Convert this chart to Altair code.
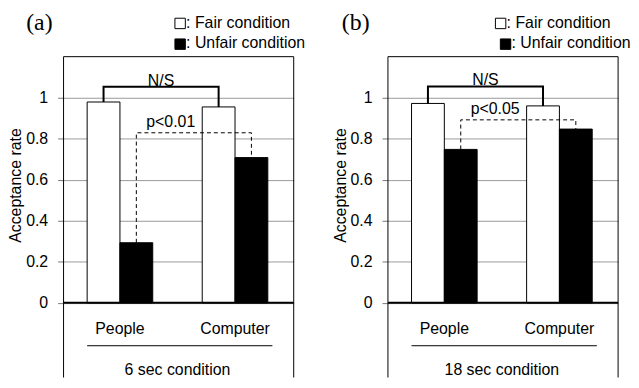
import altair as alt
import pandas as pd

# ---- data ----
panel_tags = ["(a)", "(b)"]
durations = ["6 sec condition", "18 sec condition"]
groups = ["People", "Computer"]
series = ["Fair condition", "Unfair condition"]
legend_labels = [": Fair condition", ": Unfair condition"]
fair_rates = [[0.979, 0.955], [0.972, 0.960]]
unfair_rates = [[0.293, 0.708], [0.748, 0.847]]
sig_texts = [["N/S", "p<0.01"], ["N/S", "p<0.05"]]
ns_levels = [1.053, 1.055]
p_levels = [0.829, 0.892]
y_ticks = [0, 0.2, 0.4, 0.6, 0.8, 1]
frame_top = 1.2

# ---- layout constants ----
FONT = "Liberation Sans"
SERIF = "Liberation Serif"
XDOM = [-0.49, 1.51]
YDOM = [-0.364, 1.43]
W = 232
H = 371
BW = 0.285
LEG_X = [[0.523, 0.523], [0.489, 0.532]]
LEG_SQ_Y = [1.362, 1.261]
LEG_TX_Y = [1.339, 1.240]
TAG_X = [-0.70, -0.77]
TAG_Y = 1.328
CAT_Y = -0.150
LINE_Y = -0.209
DUR_Y = -0.354
LINE_X = [-0.285, 1.325]


def panel(i):
    xs = alt.Scale(domain=XDOM, nice=False, zero=False)
    ys = alt.Scale(domain=YDOM, nice=False, zero=False)
    yaxis = alt.Axis(
        values=y_ticks, format="~g", domain=False, grid=True,
        gridColor="#9a9a9a", gridWidth=1, ticks=True, tickColor="#777777",
        tickSize=6, labelFont=FONT, labelFontSize=16, labelColor="black",
        labelPadding=10, title="Acceptance rate", titleFont=FONT,
        titleFontSize=16, titleFontWeight="normal", titleColor="black",
        titleX=-48, titleY=177, titleAlign="center", titleBaseline="middle",
        titleAngle=270,
    )

    def X(f):
        return alt.X(f, type="quantitative", scale=xs, axis=None)

    def Y(f):
        return alt.Y(f, type="quantitative", scale=ys, axis=yaxis)

    rows = []
    for gi, g in enumerate(groups):
        for si, s in enumerate(series):
            v = (fair_rates if si == 0 else unfair_rates)[i][gi]
            x0 = gi - BW + si * BW
            rows.append(dict(group=g, series=s, value=v, x0=x0, x1=x0 + BW))
    bars_df = pd.DataFrame(rows)

    bars = alt.Chart(bars_df).mark_rect(stroke="black", strokeWidth=1).encode(
        x=X("x0"), x2="x1",
        y=Y("value"), y2=alt.datum(0),
        fill=alt.Fill("series:N", scale=alt.Scale(domain=series, range=["white", "black"]), legend=None),
    )

    segs = pd.DataFrame([
        dict(xa=XDOM[0], xb=XDOM[1], ya=frame_top, yb=frame_top),
        dict(xa=XDOM[0], xb=XDOM[0], ya=YDOM[0], yb=frame_top),
        dict(xa=XDOM[1], xb=XDOM[1], ya=YDOM[0], yb=frame_top),
        dict(xa=LINE_X[0], xb=LINE_X[1], ya=LINE_Y, yb=LINE_Y),
    ])
    frame = alt.Chart(segs).mark_rule(color="black", strokeWidth=1).encode(
        x=X("xa"), x2="xb", y=Y("ya"), y2="yb"
    )
    zero_df = pd.DataFrame([dict(xa=XDOM[0], xb=XDOM[1], ya=0.0)])
    zero = alt.Chart(zero_df).mark_rule(color="black", strokeWidth=2).encode(
        x=X("xa"), x2="xb", y=Y("ya")
    )

    fair_c = [gi - BW / 2 for gi in range(len(groups))]
    unf_c = [gi + BW / 2 for gi in range(len(groups))]
    ns = pd.DataFrame([
        dict(x=fair_c[0], y=fair_rates[i][0], o=0),
        dict(x=fair_c[0], y=ns_levels[i], o=1),
        dict(x=fair_c[1], y=ns_levels[i], o=2),
        dict(x=fair_c[1], y=fair_rates[i][1], o=3),
    ])
    pp = pd.DataFrame([
        dict(x=unf_c[0], y=unfair_rates[i][0], o=0),
        dict(x=unf_c[0], y=p_levels[i], o=1),
        dict(x=unf_c[1], y=p_levels[i], o=2),
        dict(x=unf_c[1], y=unfair_rates[i][1], o=3),
    ])
    ns_line = alt.Chart(ns).mark_line(color="black", strokeWidth=2).encode(
        x=X("x"), y=Y("y"), order="o:Q"
    )
    p_line = alt.Chart(pp).mark_line(color="black", strokeWidth=1, strokeDash=[4, 3]).encode(
        x=X("x"), y=Y("y"), order="o:Q"
    )

    ns_txt = alt.Chart(pd.DataFrame([dict(x=(fair_c[0] + fair_c[1]) / 2, y=ns_levels[i], t=sig_texts[i][0])])).mark_text(
        font=FONT, fontSize=16, align="center", baseline="alphabetic", dy=-1, color="black"
    ).encode(x=X("x"), y=Y("y"), text="t:N")
    p_txt = alt.Chart(pd.DataFrame([dict(x=unf_c[0], y=p_levels[i], t=sig_texts[i][1])])).mark_text(
        font=FONT, fontSize=16, align="left", baseline="alphabetic", dx=10, dy=-6, color="black"
    ).encode(x=X("x"), y=Y("y"), text="t:N")

    cats = alt.Chart(pd.DataFrame([dict(x=gi, y=CAT_Y, t=g) for gi, g in enumerate(groups)])).mark_text(
        font=FONT, fontSize=16, align="center", baseline="alphabetic", color="black"
    ).encode(x=X("x"), y=Y("y"), text="t:N")
    dur = alt.Chart(pd.DataFrame([dict(x=(len(groups) - 1) / 2, y=DUR_Y, t=durations[i])])).mark_text(
        font=FONT, fontSize=16, align="center", baseline="alphabetic", color="black"
    ).encode(x=X("x"), y=Y("y"), text="t:N")

    leg_df = pd.DataFrame([
        dict(x=LEG_X[i][k], ys=LEG_SQ_Y[k], yt=LEG_TX_Y[k], series=series[k], t=legend_labels[k])
        for k in range(len(series))
    ])
    leg_sq = alt.Chart(leg_df).mark_square(size=110, stroke="black", strokeWidth=1, opacity=1, fillOpacity=1).encode(
        x=X("x"), y=Y("ys"),
        fill=alt.Fill("series:N", scale=alt.Scale(domain=series, range=["white", "black"]), legend=None),
    )
    leg_tx = alt.Chart(leg_df).mark_text(
        font=FONT, fontSize=16, align="left", baseline="alphabetic", dx=6, color="black"
    ).encode(x=X("x"), y=Y("yt"), text="t:N")

    tag = alt.Chart(pd.DataFrame([dict(x=TAG_X[i], y=TAG_Y, t=panel_tags[i])])).mark_text(
        font=SERIF, fontSize=24, align="center", baseline="alphabetic", color="black"
    ).encode(x=X("x"), y=Y("y"), text="t:N")

    return alt.layer(
        bars, zero, frame, ns_line, p_line, ns_txt, p_txt, cats, dur, leg_sq, leg_tx, tag
    ).properties(width=W, height=H)


chart = alt.hconcat(panel(0), panel(1), spacing=95, bounds="flush").properties(
    padding={"left": 0, "top": 0, "right": 0, "bottom": 0}
).configure_view(strokeWidth=0)

chart.save("out.html", embed_options={"renderer": "svg", "actions": False})
